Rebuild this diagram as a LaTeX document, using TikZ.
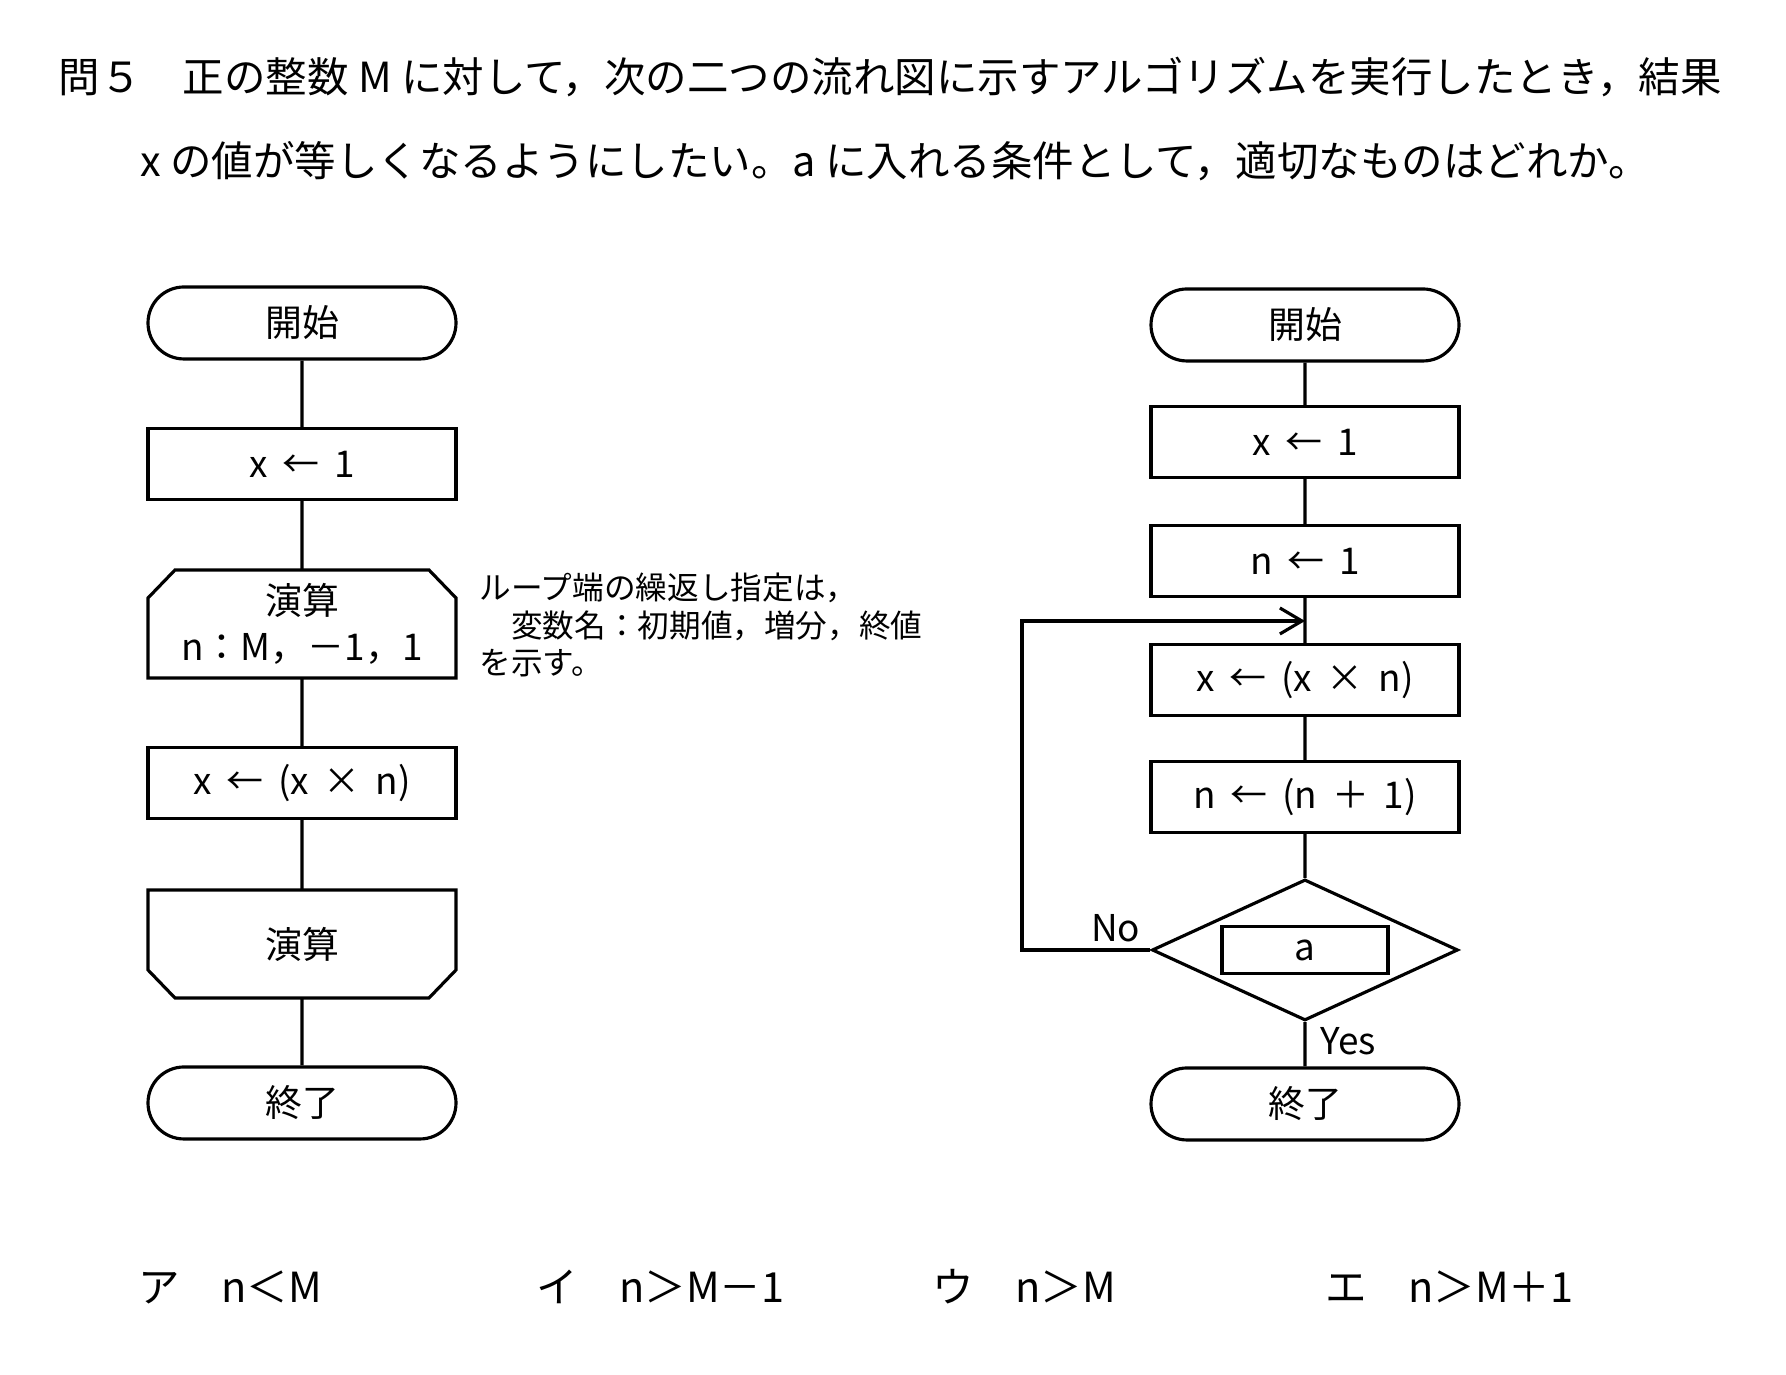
\documentclass[tikz,border=0pt]{standalone}
\usepackage{fontspec}
\setmainfont{Noto Sans CJK JP}
\newfontfamily\flowfont{Noto Sans CJK JP}[WordSpace=1.8]
\usetikzlibrary{shapes.misc,shapes.geometric,arrows.meta}

\begin{document}
\begin{tikzpicture}[line width=0.9pt,
    box text/.style={font=\flowfont\fontsize{10.5}{13}\selectfont},
    terminal/.style={draw, rounded rectangle, box text, minimum width=3.08cm, minimum height=0.72cm, inner sep=0pt},
    procbox/.style={draw, rectangle, box text, minimum width=3.08cm, minimum height=0.71cm, inner sep=0pt},
    loopbox/.style={rectangle, box text, align=center, minimum width=3.08cm, minimum height=1.08cm, inner sep=0pt, outer sep=0pt},
    decision/.style={draw, diamond, minimum width=3.06cm, minimum height=1.41cm, inner sep=0pt},
    question/.style={font=\fontsize{11.8}{14}\selectfont, anchor=west, inner sep=0pt}]

  \useasboundingbox (0,0) rectangle (17.86,13.75);

  % question text
  \node[question] (q1) at (0.57,12.98) {問５　正の整数 M に対して，次の二つの流れ図に示すアルゴリズムを実行したとき，結果};
  \node[question] (q2) at (1.39,12.14) {x の値が等しくなるようにしたい。a に入れる条件として，適切なものはどれか。};

  % left chart
  \node[terminal] (start1) at (3.02,10.52) {開始};
  \node[procbox] (init1) at (3.02,9.11) {x ← 1};
  \node[loopbox] (lstart) at (3.02,7.51) {演算\\n：M，－1，1};
  \node[procbox] (mult1) at (3.02,5.92) {x ← (x × n)};
  \node[loopbox] (lend) at (3.02,4.31) {演算};
  \node[terminal] (stop1) at (3.02,2.72) {終了};
  \draw (start1) -- (init1) -- (lstart) -- (mult1) -- (lend) -- (stop1);
  % loop ends with cut corners
  \draw (lstart.south west) -- ([yshift=-0.28cm]lstart.north west) -- ([xshift=0.27cm]lstart.north west)
    -- ([xshift=-0.27cm]lstart.north east) -- ([yshift=-0.28cm]lstart.north east) -- (lstart.south east) -- cycle;
  \draw (lend.north west) -- ([yshift=0.28cm]lend.south west) -- ([xshift=0.27cm]lend.south west)
    -- ([xshift=-0.27cm]lend.south east) -- ([yshift=0.28cm]lend.south east) -- (lend.north east) -- cycle;

  \node[font=\fontsize{9}{10.8}\selectfont, align=left, anchor=west, inner sep=0pt] (note) at (4.78,7.50)
    {ループ端の繰返し指定は，\\　変数名：初期値，増分，終値\\を示す。};

  % right chart
  \node[terminal] (start2) at (13.05,10.50) {開始};
  \node[procbox] (init2) at (13.05,9.33) {x ← 1};
  \node[procbox] (initn) at (13.05,8.14) {n ← 1};
  \node[procbox] (mult2) at (13.05,6.95) {x ← (x × n)};
  \node[procbox] (incr) at (13.05,5.78) {n ← (n ＋ 1)};
  \node[decision] (test) at (13.05,4.25) {};
  \node[draw, box text, minimum width=1.66cm, minimum height=0.47cm, inner sep=0pt] (cond) at (test) {a};
  \node[terminal] (stop2) at (13.05,2.71) {終了};
  \coordinate (merge) at (13.05,7.54);
  \coordinate (back) at (10.22,7.54);
  \draw (start2) -- (init2) -- (initn) -- (mult2) -- (incr) -- (test) -- (stop2);
  \draw[-{Straight Barb[length=2.2mm,width=2.6mm]}] (test.west) -- (back |- test.west) -- (back) -- (merge);
  \node[box text, above left, inner sep=1pt] (no) at ([xshift=-0.05cm,yshift=0.03cm]test.west) {No};
  \node[box text, anchor=north west, inner sep=1pt] (yes) at ([xshift=0.1cm]test.south) {Yes};

  % choices
  \foreach \i/\x/\t in {1/1.37/ア　n＜M, 2/5.35/イ　n＞M－1, 3/9.31/ウ　n＞M, 4/13.24/エ　n＞M＋1}
    \node[question] (opt\i) at (\x,0.88) {\t};
\end{tikzpicture}
\end{document}
